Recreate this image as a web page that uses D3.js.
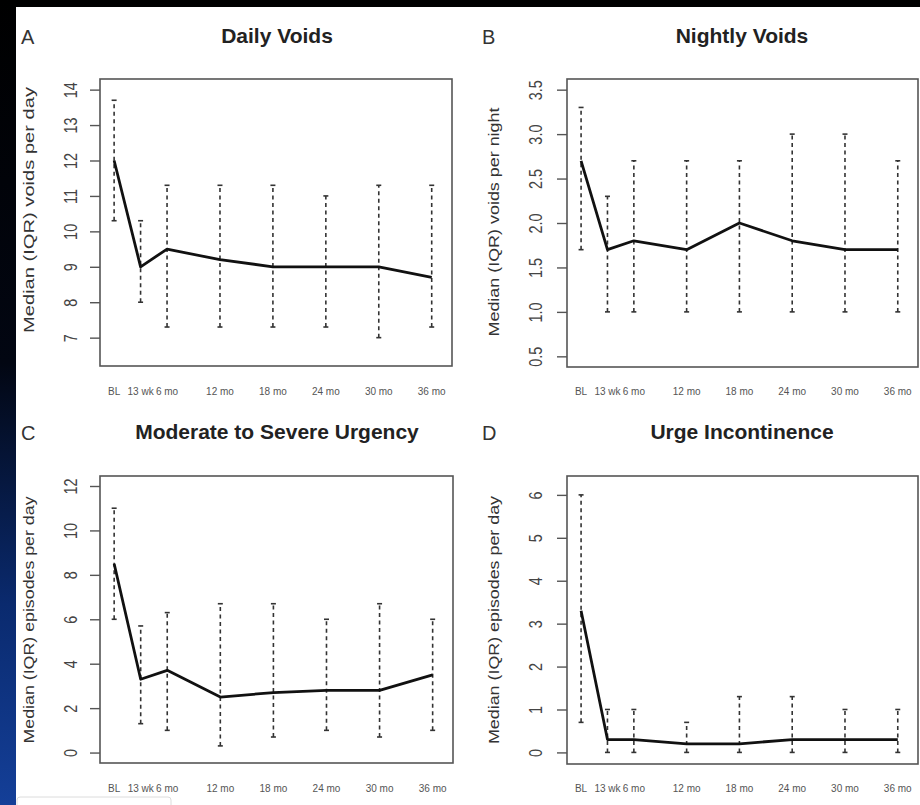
<!DOCTYPE html>
<html>
<head>
<meta charset="utf-8">
<script src="https://cdn.jsdelivr.net/npm/d3@7/dist/d3.min.js"></script>
<style>
  html, body { margin: 0; padding: 0; background: #000; }
  svg { display: block; }
  text { font-family: "Liberation Sans", Arial, Helvetica, sans-serif; }
</style>
</head>
<body>
<svg id="chart" width="920" height="805"></svg>
<script>
// Visit labels and their time in months from baseline
const timepoints = ["BL", "13 wk", "6 mo", "12 mo", "18 mo", "24 mo", "30 mo", "36 mo"];
const months = [0, 3, 6, 12, 18, 24, 30, 36];

// A: daily voids — median and interquartile range
const dailyMedian = [12.0, 9.0, 9.5, 9.2, 9.0, 9.0, 9.0, 8.7];
const dailyQ1     = [10.3, 8.0, 7.3, 7.3, 7.3, 7.3, 7.0, 7.3];
const dailyQ3     = [13.7, 10.3, 11.3, 11.3, 11.3, 11.0, 11.3, 11.3];
const dailyTicks  = [7, 8, 9, 10, 11, 12, 13, 14];

// B: nightly voids
const nightlyMedian = [2.7, 1.7, 1.8, 1.7, 2.0, 1.8, 1.7, 1.7];
const nightlyQ1     = [1.7, 1.0, 1.0, 1.0, 1.0, 1.0, 1.0, 1.0];
const nightlyQ3     = [3.3, 2.3, 2.7, 2.7, 2.7, 3.0, 3.0, 2.7];
const nightlyTicks  = [0.5, 1.0, 1.5, 2.0, 2.5, 3.0, 3.5];

// C: moderate to severe urgency episodes
const urgencyMedian = [8.5, 3.3, 3.7, 2.5, 2.7, 2.8, 2.8, 3.5];
const urgencyQ1     = [6.0, 1.3, 1.0, 0.3, 0.7, 1.0, 0.7, 1.0];
const urgencyQ3     = [11.0, 5.7, 6.3, 6.7, 6.7, 6.0, 6.7, 6.0];
const urgencyTicks  = [0, 2, 4, 6, 8, 10, 12];

// D: urge incontinence episodes
const urgeMedian = [3.3, 0.3, 0.3, 0.2, 0.2, 0.3, 0.3, 0.3];
const urgeQ1     = [0.7, 0.0, 0.0, 0.0, 0.0, 0.0, 0.0, 0.0];
const urgeQ3     = [6.0, 1.0, 1.0, 0.7, 1.3, 1.3, 1.0, 1.0];
const urgeTicks  = [0, 1, 2, 3, 4, 5, 6];

const svg = d3.select("#chart");

// backdrop: dark slide edge with a white figure area
const defs = svg.append("defs");
const grad = defs.append("linearGradient").attr("id", "edge").attr("x1", 0).attr("y1", 0).attr("x2", 0).attr("y2", 1);
grad.append("stop").attr("offset", "0").attr("stop-color", "#000000");
grad.append("stop").attr("offset", "0.45").attr("stop-color", "#020612");
grad.append("stop").attr("offset", "0.75").attr("stop-color", "#0a2a6e");
grad.append("stop").attr("offset", "1").attr("stop-color", "#143f98");
svg.append("rect").attr("width", 920).attr("height", 805).attr("fill", "url(#edge)");
svg.append("rect").attr("x", 16).attr("y", 7).attr("width", 904).attr("height", 798).attr("fill", "#ffffff");
svg.append("rect").attr("x", 17).attr("y", 797).attr("width", 154).attr("height", 14).attr("rx", 3)
  .attr("fill", "none").attr("stroke", "#dcdcdc").attr("stroke-width", 1);

const panels = [
  { letter: "A", title: "Daily Voids", ylab: "Median (IQR) voids per day",
    med: dailyMedian, q1: dailyQ1, q3: dailyQ3, ticks: dailyTicks, fmt: d3.format("d"),
    box: [100, 79, 452, 366], ydom: [6.2, 14.3], ylabY: 210, ylabLen: 246, col: 0, row: 0 },
  { letter: "B", title: "Nightly Voids", ylab: "Median (IQR) voids per night",
    med: nightlyMedian, q1: nightlyQ1, q3: nightlyQ3, ticks: nightlyTicks, fmt: d3.format(".1f"),
    box: [567, 79, 918, 367], ydom: [0.38, 3.62], ylabY: 222, ylabLen: 229, col: 1, row: 0 },
  { letter: "C", title: "Moderate to Severe Urgency", ylab: "Median (IQR) episodes per day",
    med: urgencyMedian, q1: urgencyQ1, q3: urgencyQ3, ticks: urgencyTicks, fmt: d3.format("d"),
    box: [100, 476, 453, 763], ydom: [-0.47, 12.45], ylabY: 620, ylabLen: 247, col: 0, row: 1 },
  { letter: "D", title: "Urge Incontinence", ylab: "Median (IQR) episodes per day",
    med: urgeMedian, q1: urgeQ1, q3: urgeQ3, ticks: urgeTicks, fmt: d3.format("d"),
    box: [567, 476, 918, 764], ydom: [-0.27, 6.44], ylabY: 620, ylabLen: 248, col: 1, row: 1 }
];

panels.forEach(p => {
  const [x0, y0, x1, y1] = p.box;
  const g = svg.append("g");
  const x = d3.scaleLinear().domain([-1.6, 38.3]).range([x0, x1]);
  const y = d3.scaleLinear().domain(p.ydom).range([y1, y0]);
  const pts = months.map((m, i) => ({ m, label: timepoints[i], med: p.med[i], lo: p.q1[i], hi: p.q3[i] }));

  // panel letter and title
  const labelX = p.col === 0 ? 21 : 482;
  const baseY = p.row === 0 ? 44 : 440;
  g.append("text").attr("x", labelX).attr("y", baseY).attr("font-size", 20).attr("fill", "#333").text(p.letter);
  g.append("text").attr("x", p.col === 0 ? 277 : 742).attr("y", baseY - 1).attr("text-anchor", "middle")
    .attr("font-size", 21).attr("font-weight", "bold").attr("fill", "#222").text(p.title);

  // plot frame
  g.append("rect").attr("x", x0).attr("y", y0).attr("width", x1 - x0).attr("height", y1 - y0)
    .attr("fill", "none").attr("stroke", "#555").attr("stroke-width", 1.6);

  // y axis: outward ticks with labels parallel to the axis
  const axis = g.append("g").attr("transform", `translate(${x0},0)`)
    .call(d3.axisLeft(y).tickValues(p.ticks).tickFormat(p.fmt).tickSize(10).tickSizeOuter(0));
  axis.select(".domain").remove();
  axis.selectAll(".tick line").attr("stroke", "#555").attr("stroke-width", 1.4);
  axis.selectAll(".tick text")
    .attr("x", null).attr("dy", null).attr("text-anchor", "middle")
    .attr("transform", `translate(${p.col === 0 ? -23 : -25},0) rotate(-90) scale(0.78,1)`)
    .attr("font-size", 18.5).attr("fill", "#444")
    .attr("font-family", "'Liberation Sans', Arial, sans-serif");

  // y axis title
  const tx = p.col === 0 ? 34 : 499;
  g.append("text").attr("transform", `translate(${tx},${p.ylabY}) rotate(-90)`)
    .attr("text-anchor", "middle").attr("font-size", 15).attr("fill", "#333")
    .attr("textLength", p.ylabLen).attr("lengthAdjust", "spacingAndGlyphs").text(p.ylab);

  // visit labels under the frame
  g.selectAll(".xl").data(pts).join("text").attr("class", "xl")
    .attr("x", d => x(d.m)).attr("y", p.row === 0 ? 395 : 792)
    .attr("text-anchor", "middle").attr("font-size", 10).attr("fill", "#555").text(d => d.label);

  // interquartile ranges as dashed whiskers with small caps
  g.selectAll(".iqr").data(pts).join("line").attr("class", "iqr")
    .attr("x1", d => x(d.m)).attr("x2", d => x(d.m))
    .attr("y1", d => y(d.lo)).attr("y2", d => y(d.hi))
    .attr("stroke", "#333").attr("stroke-width", 1.6).attr("stroke-dasharray", "4,3.5");
  ["lo", "hi"].forEach(k => {
    g.selectAll(".cap-" + k).data(pts).join("line").attr("class", "cap-" + k)
      .attr("x1", d => x(d.m) - 2.5).attr("x2", d => x(d.m) + 2.5)
      .attr("y1", d => y(d[k])).attr("y2", d => y(d[k]))
      .attr("stroke", "#333").attr("stroke-width", 1.6);
  });

  // median trajectory
  g.append("path").datum(pts)
    .attr("d", d3.line().x(d => x(d.m)).y(d => y(d.med)))
    .attr("fill", "none").attr("stroke", "#111").attr("stroke-width", 2.8).attr("stroke-linejoin", "round");
});
</script>
</body>
</html>
